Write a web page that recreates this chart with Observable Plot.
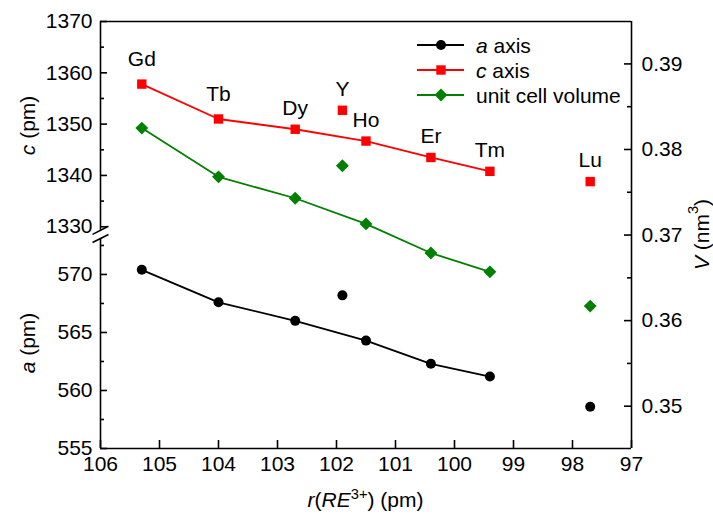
<!DOCTYPE html>
<html><head><meta charset="utf-8">
<script src="https://cdn.jsdelivr.net/npm/d3@7"></script>
<script src="https://cdn.jsdelivr.net/npm/@observablehq/plot@0.6"></script>
<style>
html,body{margin:0;padding:0;background:#fff;}
#chart svg{font-family:Arial,"Liberation Sans",sans-serif;display:block;}
</style></head>
<body><div id="chart"></div>
<script>
// ---- data ----
const elements = ["Gd","Tb","Dy","Y","Ho","Er","Tm","Lu"];
const radius   = [105.3,104.0,102.7,101.9,101.5,100.4,99.4,97.7];      // r(RE3+) pm
const aAxis    = [570.4,567.6,566.0,568.2,564.3,562.3,561.2,558.6];    // a (pm)
const cAxis    = [1357.8,1351.0,1349.0,1352.7,1346.7,1343.5,1340.8,1338.8]; // c (pm)
const volume   = [0.3825,0.3768,0.3743,0.3781,0.3713,0.3679,0.3657,0.3617]; // V (nm3)
const onTrend  = [true,true,true,false,true,true,true,false];

const xTicks = [106,105,104,103,102,101,100,99,98,97];
const aTicks = [555,560,565,570];
const aMinor = [557.5,562.5,567.5,572.5];
const cTicks = [1330,1340,1350,1360,1370];
const cMinor = [1335,1345,1355,1365];
const vTicks = [0.35,0.36,0.37,0.38,0.39];
const vMinor = [0.355,0.365,0.375,0.385];

const rows = elements.map((el,i)=>({el, r: radius[i], a: aAxis[i], c: cAxis[i], v: volume[i], on: onTrend[i]}));

// ---- layout ----
const W = 713, H = 520, mL = 100, mR = 82, mT = 21, mB = 72;
const fw = W - mL - mR, fh = H - mT - mB;
// shared y scale in "a (pm)" units; c and V are mapped onto it
const aPx = 11.6, cPx = 5.13, vPx = 8555;
const cBase = 555 + (448 - 226.3) / aPx;   // where c = 1330 sits
const vBase = 555 + (448 - 405.7) / aPx;   // where V = 0.35 sits
const cToY = c => cBase + (c - 1330) * cPx / aPx;
const yToC = y => 1330 + (y - cBase) * aPx / cPx;
const vToY = v => vBase + (v - 0.35) * vPx / aPx;
const yToV = y => 0.35 + (y - vBase) * aPx / vPx;
const yTop = cToY(1370);
const breakC = 1329.3, breakA = 573.1;

const red = "#ff0000", green = "#008000";
const font = 21;

const chart = Plot.plot({
  width: W, height: H,
  marginLeft: mL, marginRight: mR, marginTop: mT, marginBottom: mB,
  style: {fontFamily: "Arial, 'Liberation Sans', sans-serif", fontSize: font + "px", color: "#000", background: "#fff"},
  x: {domain: [106, 97]},
  y: {domain: [555, yTop]},
  marks: [
    // frame pieces
    Plot.ruleY([yTop], {stroke: "#000", strokeWidth: 1.6}),
    Plot.ruleY([555], {stroke: "#000", strokeWidth: 1.6}),
    Plot.ruleX([97], {stroke: "#000", strokeWidth: 1.6}),
    Plot.ruleX([{y1: cToY(breakC), y2: yTop}, {y1: 555, y2: breakA}], {x: () => 106, y1: "y1", y2: "y2", stroke: "#000", strokeWidth: 1.6}),
    // axis break slashes
    Plot.link([cToY(breakC), breakA], {x1: () => 106 + 0.135, x2: () => 106 - 0.135, y1: d => d - 0.35, y2: d => d + 0.35, stroke: "#000", strokeWidth: 1.6}),
    // inward ticks
    Plot.tickY(cTicks.map(cToY), {insetRight: fw - 7, stroke: "#000", strokeWidth: 1.6}),
    Plot.tickY(cMinor.map(cToY), {insetRight: fw - 4, stroke: "#000", strokeWidth: 1.6}),
    Plot.tickY(aTicks, {insetRight: fw - 7, stroke: "#000", strokeWidth: 1.6}),
    Plot.tickY(aMinor, {insetRight: fw - 4, stroke: "#000", strokeWidth: 1.6}),
    Plot.tickY(vTicks.map(vToY), {insetLeft: fw - 7, stroke: "#000", strokeWidth: 1.6}),
    Plot.tickY(vMinor.map(vToY), {insetLeft: fw - 4, stroke: "#000", strokeWidth: 1.6}),
    Plot.tickX(xTicks, {insetTop: fh - 8, stroke: "#000", strokeWidth: 1.6}),
    // tick labels
    Plot.axisX({ticks: xTicks, tickSize: 0, tickPadding: 8, fontSize: font, label: null, tickFormat: d => String(d)}),
    Plot.axisY({anchor: "left", ticks: aTicks, tickSize: 0, tickPadding: 8, fontSize: font, label: null, tickFormat: d => String(d)}),
    Plot.axisY({anchor: "left", ticks: cTicks.map(cToY), tickSize: 0, tickPadding: 8, fontSize: font, label: null, tickFormat: d => String(Math.round(yToC(d)))}),
    Plot.axisY({anchor: "right", ticks: vTicks.map(vToY), tickSize: 0, tickPadding: 10, fontSize: font, label: null, tickFormat: d => yToV(d).toFixed(2)}),
    // series lines
    Plot.line(rows.filter(d => d.on), {x: "r", y: "a", stroke: "#000", strokeWidth: 1.8}),
    Plot.line(rows.filter(d => d.on), {x: "r", y: d => cToY(d.c), stroke: red, strokeWidth: 1.8}),
    Plot.line(rows.filter(d => d.on), {x: "r", y: d => vToY(d.v), stroke: green, strokeWidth: 1.8}),
    // markers
    Plot.dot(rows, {x: "r", y: "a", symbol: "circle", fill: "#000", r: 5}),
    Plot.dot(rows, {x: "r", y: d => cToY(d.c), symbol: "square", fill: red, r: 5.3}),
    Plot.dot(rows, {x: "r", y: d => vToY(d.v), symbol: "diamond2", fill: green, r: 5.8}),
    // element labels
    Plot.text(rows.filter(d => d.el === "Gd" || d.el === "Tb"), {x: "r", y: d => cToY(d.c), text: "el", dy: -25, fontSize: font, fill: "#000"}),
    Plot.text(rows.filter(d => !(d.el === "Gd" || d.el === "Tb")), {x: "r", y: d => cToY(d.c), text: "el", dy: -21, fontSize: font, fill: "#000"})
  ]
});

document.getElementById("chart").appendChild(chart);

// ---- axis titles and legend (text with italics / superscripts) ----
const svg = d3.select(chart);
const ff = "Arial, 'Liberation Sans', sans-serif";
function rotTitle(x, y, parts) {
  const t = svg.append("text").attr("transform", `translate(${x},${y}) rotate(-90)`)
    .attr("text-anchor", "middle").attr("dominant-baseline", "central")
    .attr("font-size", font).attr("font-family", ff).attr("fill", "#000");
  parts.forEach(p => addPart(t, p));
}
function addPart(t, p) {
  const s = t.append("tspan").text(p.t);
  if (p.i) s.attr("font-style", "italic");
  if (p.sup) s.attr("font-size", font * 0.7).attr("dy", -font * 0.4);
  if (p.down) s.attr("dy", font * 0.4);
}
const yS = chart.scale("y");
rotTitle(27, (yS.apply(yTop) + yS.apply(cToY(breakC))) / 2, [{t: "c", i: true}, {t: " (pm)"}]);
rotTitle(27, (yS.apply(555) + yS.apply(breakA)) / 2, [{t: "a", i: true}, {t: " (pm)"}]);
rotTitle(701, (yS.apply(555) + yS.apply(yTop)) / 2, [{t: "V", i: true}, {t: " (nm"}, {t: "3", sup: true}, {t: ")", down: true}]);

const xt = svg.append("text").attr("x", mL + fw / 2).attr("y", 507)
  .attr("text-anchor", "middle").attr("font-size", font).attr("font-family", ff).attr("fill", "#000");
[{t: "r", i: true}, {t: "("}, {t: "RE", i: true}, {t: "3+", sup: true}, {t: ") (pm)", down: true}].forEach(p => addPart(xt, p));

// legend
const legend = [
  {parts: [{t: "a", i: true}, {t: " axis"}], color: "#000", sym: d3.symbolCircle, size: Math.PI * 25},
  {parts: [{t: "c", i: true}, {t: " axis"}], color: red, sym: d3.symbolSquare, size: Math.PI * 5.3 * 5.3},
  {parts: [{t: "unit cell volume"}], color: green, sym: d3.symbolDiamond2, size: Math.PI * 5.8 * 5.8}
];
legend.forEach((L, i) => {
  const y = 45 + i * 25;
  svg.append("line").attr("x1", 417).attr("x2", 464).attr("y1", y).attr("y2", y).attr("stroke", L.color).attr("stroke-width", 1.8);
  svg.append("path").attr("d", d3.symbol(L.sym, L.size)()).attr("transform", `translate(441,${y})`).attr("fill", L.color);
  const t = svg.append("text").attr("x", 476).attr("y", y).attr("dominant-baseline", "central")
    .attr("text-anchor", "start")
    .attr("font-size", font).attr("font-family", ff).attr("fill", "#000");
  L.parts.forEach(p => addPart(t, p));
});
</script>
</body></html>
